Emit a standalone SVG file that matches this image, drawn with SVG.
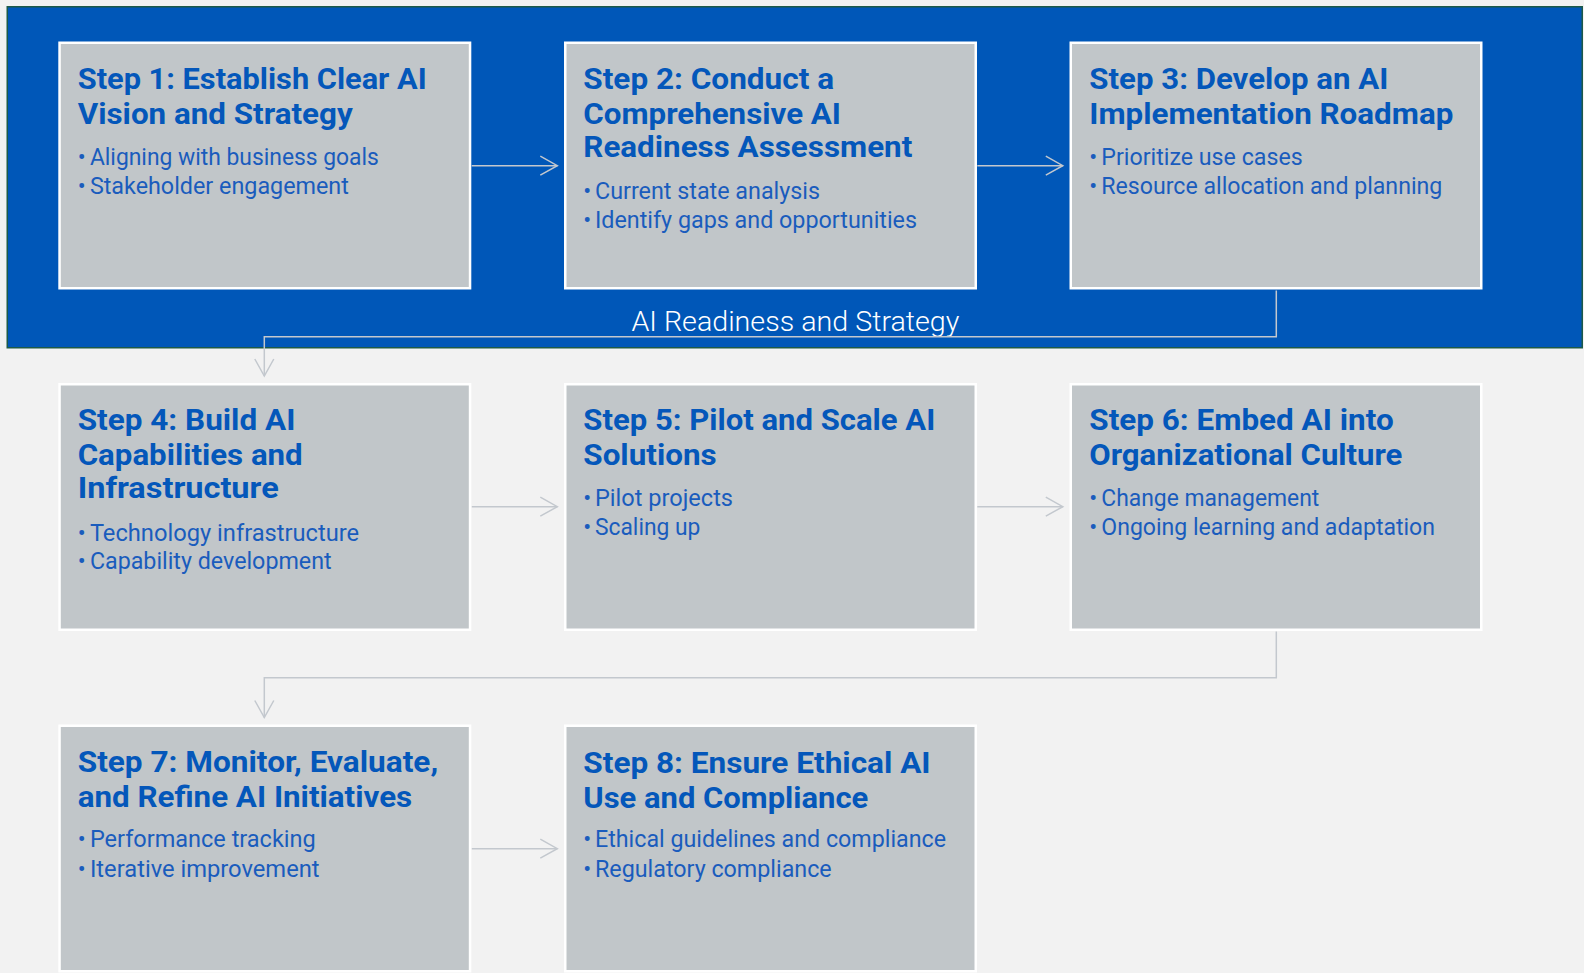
<svg xmlns="http://www.w3.org/2000/svg" width="1584" height="973" viewBox="0 0 1584 973">
<defs>
<style>
.bg{fill:#F2F2F2}
.band{fill:#0057B8;stroke:#1D5A48;stroke-width:1.5}
.box{fill:#C1C6C9;stroke:#FFFFFF;stroke-width:2.5}
.t{font-family:Roboto,"Liberation Sans",sans-serif;font-weight:700;font-size:30px;fill:#0457BA}
.b{font-family:Roboto,"Liberation Sans",sans-serif;font-weight:400;font-size:23.5px;fill:#1A5CBD}
.lbl{font-family:Roboto,"Liberation Sans",sans-serif;font-weight:300;font-size:27px;fill:#FFFFFF}
.c{fill:none;stroke:#C3C8CE;stroke-width:1.5}
</style>
<marker id="ah" markerUnits="userSpaceOnUse" markerWidth="22" markerHeight="24" viewBox="-19 -12 22 24" refX="0" refY="0" orient="auto">
<path d="M-17,-9.5 L0,0 L-17,9.5" fill="none" stroke="#C3C8CE" stroke-width="1.5"/>
</marker>
</defs>
<rect class="bg" x="0" y="0" width="1584" height="973"/>
<rect id="band" class="band" x="7.25" y="6.75" width="1575" height="341"/>
<text id="band-label" class="lbl" x="631.4" y="331" textLength="328" lengthAdjust="spacingAndGlyphs">AI Readiness and Strategy</text>

<g id="connectors">
<path class="c" d="M471.7,165.7 H557.3" marker-end="url(#ah)"/>
<path class="c" d="M977.3,165.7 H1062.8" marker-end="url(#ah)"/>
<path class="c" d="M1276.3,290.5 V336.7 H264.3 V376" marker-end="url(#ah)"/>
<path class="c" d="M471.7,506.7 H557.3" marker-end="url(#ah)"/>
<path class="c" d="M977.3,506.7 H1062.8" marker-end="url(#ah)"/>
<path class="c" d="M1276.3,631.5 V677.7 H264.3 V717.5" marker-end="url(#ah)"/>
<path class="c" d="M471.7,848.7 H557.3" marker-end="url(#ah)"/>
</g>

<g id="step1">
<rect class="box" x="59.55" y="42.75" width="410.5" height="245.5"/>
<text class="t" x="77.7" y="89.3" textLength="349" lengthAdjust="spacingAndGlyphs">Step 1: Establish Clear AI</text>
<text class="t" x="77.7" y="124.3" textLength="275" lengthAdjust="spacingAndGlyphs">Vision and Strategy</text>
<text class="b" x="77.7" y="164.7">•</text>
<text class="b" x="89.9" y="164.7" textLength="289" lengthAdjust="spacingAndGlyphs">Aligning with business goals</text>
<text class="b" x="77.7" y="194.2">•</text>
<text class="b" x="89.9" y="194.2" textLength="259" lengthAdjust="spacingAndGlyphs">Stakeholder engagement</text>
</g>

<g id="step2">
<rect class="box" x="565.25" y="42.75" width="410.5" height="245.5"/>
<text class="t" x="583.3" y="89.3" textLength="250.7" lengthAdjust="spacingAndGlyphs">Step 2: Conduct a</text>
<text class="t" x="583.3" y="124.3" textLength="257.7" lengthAdjust="spacingAndGlyphs">Comprehensive AI</text>
<text class="t" x="583.3" y="156.7" textLength="329" lengthAdjust="spacingAndGlyphs">Readiness Assessment</text>
<text class="b" x="583.3" y="199">•</text>
<text class="b" x="595" y="199" textLength="225" lengthAdjust="spacingAndGlyphs">Current state analysis</text>
<text class="b" x="583.3" y="228.3">•</text>
<text class="b" x="595" y="228.3" textLength="322" lengthAdjust="spacingAndGlyphs">Identify gaps and opportunities</text>
</g>

<g id="step3">
<rect class="box" x="1070.75" y="42.75" width="410.5" height="245.5"/>
<text class="t" x="1089.3" y="89.3" textLength="299" lengthAdjust="spacingAndGlyphs">Step 3: Develop an AI</text>
<text class="t" x="1089.3" y="124.3" textLength="364" lengthAdjust="spacingAndGlyphs">Implementation Roadmap</text>
<text class="b" x="1089.3" y="164.7">•</text>
<text class="b" x="1101.3" y="164.7" textLength="201.4" lengthAdjust="spacingAndGlyphs">Prioritize use cases</text>
<text class="b" x="1089.3" y="194.2">•</text>
<text class="b" x="1101.3" y="194.2" textLength="341" lengthAdjust="spacingAndGlyphs">Resource allocation and planning</text>
</g>

<g id="step4">
<rect class="box" x="59.55" y="384.25" width="410.5" height="245.5"/>
<text class="t" x="77.7" y="430.3" textLength="217.7" lengthAdjust="spacingAndGlyphs">Step 4: Build AI</text>
<text class="t" x="77.7" y="465.3" textLength="225" lengthAdjust="spacingAndGlyphs">Capabilities and</text>
<text class="t" x="77.7" y="497.7" textLength="201" lengthAdjust="spacingAndGlyphs">Infrastructure</text>
<text class="b" x="77.7" y="540.5">•</text>
<text class="b" x="89.9" y="540.5" textLength="269.3" lengthAdjust="spacingAndGlyphs">Technology infrastructure</text>
<text class="b" x="77.7" y="569.3">•</text>
<text class="b" x="89.9" y="569.3" textLength="241.7" lengthAdjust="spacingAndGlyphs">Capability development</text>
</g>

<g id="step5">
<rect class="box" x="565.25" y="384.25" width="410.5" height="245.5"/>
<text class="t" x="583.3" y="430.3" textLength="352" lengthAdjust="spacingAndGlyphs">Step 5: Pilot and Scale AI</text>
<text class="t" x="583.3" y="465.3" textLength="133.4" lengthAdjust="spacingAndGlyphs">Solutions</text>
<text class="b" x="583.3" y="505.7">•</text>
<text class="b" x="595" y="505.7" textLength="138" lengthAdjust="spacingAndGlyphs">Pilot projects</text>
<text class="b" x="583.3" y="535.2">•</text>
<text class="b" x="595" y="535.2" textLength="105.3" lengthAdjust="spacingAndGlyphs">Scaling up</text>
</g>

<g id="step6">
<rect class="box" x="1070.75" y="384.25" width="410.5" height="245.5"/>
<text class="t" x="1089.3" y="430.3" textLength="304.4" lengthAdjust="spacingAndGlyphs">Step 6: Embed AI into</text>
<text class="t" x="1089.3" y="465.3" textLength="313" lengthAdjust="spacingAndGlyphs">Organizational Culture</text>
<text class="b" x="1089.3" y="505.7">•</text>
<text class="b" x="1101.3" y="505.7" textLength="218" lengthAdjust="spacingAndGlyphs">Change management</text>
<text class="b" x="1089.3" y="535.2">•</text>
<text class="b" x="1101.3" y="535.2" textLength="333.7" lengthAdjust="spacingAndGlyphs">Ongoing learning and adaptation</text>
</g>

<g id="step7">
<rect class="box" x="59.55" y="725.75" width="410.5" height="245.5"/>
<text class="t" x="77.7" y="772.3" textLength="360.5" lengthAdjust="spacingAndGlyphs">Step 7: Monitor, Evaluate,</text>
<text class="t" x="77.7" y="807.3" textLength="334.5" lengthAdjust="spacingAndGlyphs">and Refine AI Initiatives</text>
<text class="b" x="77.7" y="847.2">•</text>
<text class="b" x="89.9" y="847.2" textLength="225.8" lengthAdjust="spacingAndGlyphs">Performance tracking</text>
<text class="b" x="77.7" y="876.7">•</text>
<text class="b" x="89.9" y="876.7" textLength="229.7" lengthAdjust="spacingAndGlyphs">Iterative improvement</text>
</g>

<g id="step8">
<rect class="box" x="565.25" y="725.75" width="410.5" height="245.5"/>
<text class="t" x="583.3" y="772.8" textLength="347.3" lengthAdjust="spacingAndGlyphs">Step 8: Ensure Ethical AI</text>
<text class="t" x="583.3" y="807.7" textLength="285" lengthAdjust="spacingAndGlyphs">Use and Compliance</text>
<text class="b" x="583.3" y="847.2">•</text>
<text class="b" x="595" y="847.2" textLength="351" lengthAdjust="spacingAndGlyphs">Ethical guidelines and compliance</text>
<text class="b" x="583.3" y="876.7">•</text>
<text class="b" x="595" y="876.7" textLength="236.7" lengthAdjust="spacingAndGlyphs">Regulatory compliance</text>
</g>
</svg>
